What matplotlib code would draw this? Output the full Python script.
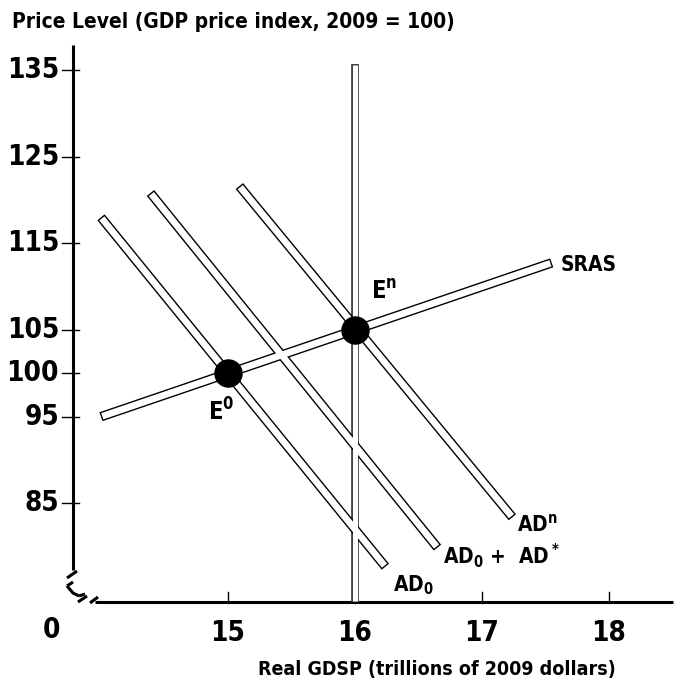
import numpy as np
import matplotlib
matplotlib.use("Agg")
import matplotlib.pyplot as plt

plt.rcParams['font.family'] = ['DejaVu Sans']
plt.rcParams['font.weight'] = 'bold'
plt.rcParams['font.stretch'] = 'condensed'
plt.rcParams['mathtext.fontset'] = 'custom'
plt.rcParams['mathtext.rm'] = 'DejaVu Sans:bold:stretch=condensed'
plt.rcParams['mathtext.it'] = 'DejaVu Sans:bold:stretch=condensed'
plt.rcParams['mathtext.bf'] = 'DejaVu Sans:bold:stretch=condensed'

# curves: x at both ends, price level at both ends
sras_x = [14.0, 17.55]
sras_p = [95.0, 112.75]
ad0_x = [14.0, 16.24]
ad0_p = [118.0, 77.7]
ad_star_x = [14.39, 16.65]
ad_star_p = [120.8, 79.9]
adn_x = [15.09, 17.24]
adn_p = [121.6, 83.4]
lras_x = [16.0, 16.0]
lras_p = [73.63, 135.7]

eq_x = [15.0, 16.0]
eq_p = [100.0, 105.0]

x_ticks = [15, 16, 17, 18]
y_ticks = [135, 125, 115, 105, 100, 95, 85]

W, H = 700, 694
fig = plt.figure(figsize=(7, 6.94), dpi=100)
ax = fig.add_axes([73 / W, (H - 602) / H, (680 - 73) / W, (602 - 40) / H])
ax.set_xlim(13.78, 18.56)
ax.set_ylim(73.63, 138.45)
for s in ax.spines.values():
    s.set_visible(False)
ax.set_xticks([])
ax.set_yticks([])


def hollow(xs, ys, wout, win, edge='black'):
    # outline line + white inner line shortened a bit so the ends look closed
    ax.plot(xs, ys, color=edge, lw=wout, solid_capstyle='butt', zorder=3, clip_on=False)
    p = ax.transData.transform(np.column_stack([xs, ys]))
    d = p[1] - p[0]
    d = d / np.hypot(*d)
    gap = (wout - win) / 2 * 100 / 72
    p[0] = p[0] + d * gap
    p[1] = p[1] - d * gap
    q = ax.transData.inverted().transform(p)
    ax.plot(q[:, 0], q[:, 1], color='white', lw=win, solid_capstyle='butt', zorder=4, clip_on=False)


hollow(lras_x, lras_p, 5.6, 3.6, edge='#444444')
hollow(sras_x, sras_p, 6.8, 4.8)
hollow(ad0_x, ad0_p, 6.8, 4.8)
hollow(ad_star_x, ad_star_p, 6.8, 4.8)
hollow(adn_x, adn_p, 6.8, 4.8)

ax.scatter(eq_x, eq_p, s=380, color='black', zorder=6, clip_on=False)

# axes drawn by hand with the break marks
k = dict(color='black', lw=2.2, solid_capstyle='butt', clip_on=False, transform=ax.transAxes)
ax.plot([0, 0], [(602 - 570) / 562, 1 - (45 - 40) / 562], **k)
ax.plot([(95 - 73) / 607, (673 - 73) / 607], [0, 0], **k)
def px(x, y):
    return (x - 73) / 607, (602 - y) / 562
for seg in [[(67, 578), (77, 571)],
            [(67, 586), (73, 582)],
            [(67, 586), (73, 593), (79, 596)],
            [(79, 596), (85, 594)],
            [(78, 602), (87, 596)],
            [(90, 603), (98, 597)]]:
    xs, ys = zip(*[px(*p) for p in seg])
    ax.plot(xs, ys, **k)

for v in y_ticks:
    ax.plot([13.78 - 0.09, 13.78 + 0.05], [v, v], color='black', lw=1, clip_on=False)
    ax.text(13.78 - 0.11, v, str(v), ha='right', va='center', fontsize=20)
for v in x_ticks:
    ax.plot([v, v], [73.63 - 0.1, 73.63 + 1.1], color='black', lw=1, clip_on=False)
    ax.text(v, 73.63 - 2.0, str(v), ha='center', va='top', fontsize=20)
ax.text(13.78 - 0.1, 73.63 - 1.6, '0', ha='right', va='top', fontsize=20)

ax.text(16.13, 108.6, r'E$^{\mathrm{n}}$', fontsize=17)
ax.text(14.84, 94.6, r'E$^{0}$', fontsize=17)
ax.text(17.62, 112.5, 'SRAS', fontsize=15, va='center')
ax.text(17.28, 82.6, r'AD$^{\mathrm{n}}$', fontsize=15, va='center')
ax.text(16.69, 79.0, r'AD$_0$ +  AD$^*$', fontsize=15, va='center')
ax.text(16.3, 75.6, r'AD$_0$', fontsize=15, va='center')

fig.text(12 / W, 1 - 22 / H, 'Price Level (GDP price index, 2009 = 100)', fontsize=15,
         va='center', ha='left')
fig.text(437 / W, 1 - 670 / H, 'Real GDSP (trillions of 2009 dollars)', fontsize=14,
         va='center', ha='center')

fig.savefig('out.png', dpi=100)
